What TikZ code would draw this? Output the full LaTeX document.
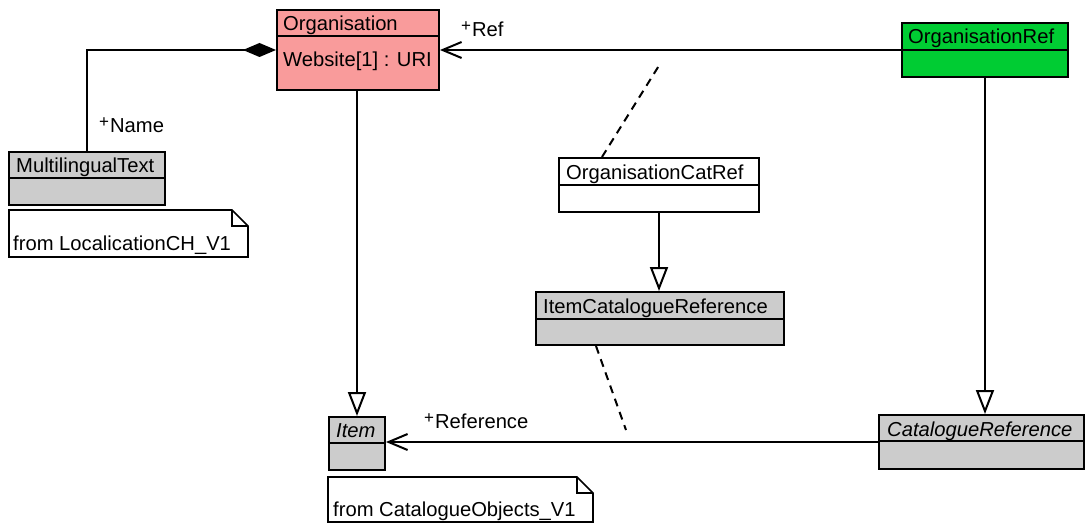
\documentclass[tikz,border=0pt]{standalone}
\usepackage{fontspec}
\setmainfont{Liberation Sans}
\usetikzlibrary{arrows.meta}
\definecolor{orgred}{RGB}{249,155,155}
\definecolor{refgreen}{RGB}{0,204,51}
\definecolor{clsgray}{RGB}{204,204,204}
\tikzset{
  cls/.style={draw=black, line width=2pt, rectangle, inner sep=0pt, anchor=north west},
  sep/.style={line width=2pt},
  lbl/.style={anchor=base west, inner sep=0pt, font=\fontsize{20.2}{24}\selectfont},
  conn/.style={line width=2pt, line join=miter},
  gen/.style={conn, -{Triangle[open, length=24pt, width=18pt, line width=2pt, fill=white]}},
  nav/.style={conn, -{Straight Barb[length=19pt, width=16pt, line width=2pt]}},
  comp/.style={conn, {Diamond[length=33pt, width=14pt]}-},
  assoc/.style={line width=2pt, dash pattern=on 8pt off 6pt},
  notebox/.style={draw=black, line width=1.6pt, fill=white},
}
\newcommand{\plusmark}{\raisebox{5pt}{\fontsize{17}{17}\selectfont +}\hspace{1pt}}
\begin{document}
\begin{tikzpicture}[x=1pt, y=-1pt]
\useasboundingbox (0,0) rectangle (1085,524);

% Organisation
\node[cls, fill=orgred, minimum width=162pt, minimum height=80pt] (org) at (276,9) {};
\draw[sep] ([yshift=-27pt]org.north west) -- ([yshift=-27pt]org.north east);
\node[lbl] (orgname) at (283,31) {Organisation};
\node[lbl] (orgattr) at (283,67) {Website[1] : URI};

% OrganisationRef
\node[cls, fill=refgreen, minimum width=166pt, minimum height=54pt] (oref) at (901,22) {};
\draw[sep] ([yshift=-28pt]oref.north west) -- ([yshift=-28pt]oref.north east);
\node[lbl] (orefname) at (908,44) {OrganisationRef};

% MultilingualText
\node[cls, fill=clsgray, minimum width=156pt, minimum height=53pt] (ml) at (8,151) {};
\draw[sep] ([yshift=-27pt]ml.north west) -- ([yshift=-27pt]ml.north east);
\node[lbl] (mlname) at (16,173) {MultilingualText};

% Note 1
\draw[notebox] (9,210) -- (232,210) -- (248,226) -- (248,257) -- (9,257) -- cycle;
\draw[line width=1.6pt] (232,210) -- (232,226) -- (248,226);
\node[lbl] (note1) at (13,250) {from LocalicationCH\_V1};

% OrganisationCatRef
\node[cls, fill=white, minimum width=200pt, minimum height=54pt] (ocr) at (558,157) {};
\draw[sep] ([yshift=-28pt]ocr.north west) -- ([yshift=-28pt]ocr.north east);
\node[lbl] (ocrname) at (566,179) {OrganisationCatRef};

% ItemCatalogueReference
\node[cls, fill=clsgray, minimum width=248pt, minimum height=53pt] (icr) at (535,291) {};
\draw[sep] ([yshift=-28pt]icr.north west) -- ([yshift=-28pt]icr.north east);
\node[lbl] (icrname) at (543,313) {ItemCatalogueReference};

% CatalogueReference
\node[cls, fill=clsgray, minimum width=205pt, minimum height=54pt] (catref) at (878,414) {};
\draw[sep] ([yshift=-27pt]catref.north west) -- ([yshift=-27pt]catref.north east);
\node[lbl] (catrefname) at (887,436) {\itshape CatalogueReference};

% Item
\node[cls, fill=clsgray, minimum width=56pt, minimum height=53pt] (item) at (328,416) {};
\draw[sep] ([yshift=-27pt]item.north west) -- ([yshift=-27pt]item.north east);
\node[lbl] (itemname) at (336,437) {\itshape Item};

% Note 2
\draw[notebox] (328,477) -- (577,477) -- (593,493) -- (593,522) -- (328,522) -- cycle;
\draw[line width=1.6pt] (577,477) -- (577,493) -- (593,493);
\node[lbl] (note2) at (333,516) {from CatalogueObjects\_V1};

% Connectors
\draw[comp] (org.west) -| (ml.north);
\node[lbl] (lname) at (99,133) {\plusmark Name};

\draw[nav] (oref.west) -- (oref.west -| org.east);
\node[lbl] (lref) at (461,37) {\plusmark Ref};

\draw[gen] (item.north |- org.south) -- (item.north);
\draw[gen] (oref.south) -- (oref.south |- catref.north);
\draw[gen] (ocr.south) -- (ocr.south |- icr.north);

\draw[nav] (catref.west) -- (catref.west -| item.east);
\node[lbl] (lreference) at (424,428) {\plusmark Reference};

\coordinate (refpt) at (660,64);
\coordinate (referencept) at (626,430);
\draw[assoc] ([xshift=44pt]ocr.north west) -- (refpt);
\draw[assoc] ([xshift=61pt]icr.south west) -- (referencept);
\end{tikzpicture}
\end{document}
